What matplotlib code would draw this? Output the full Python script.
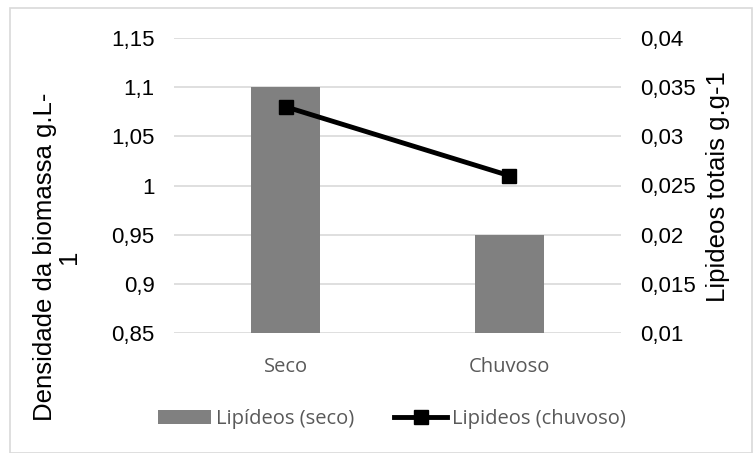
import matplotlib
matplotlib.use("Agg")
import matplotlib.pyplot as plt
from matplotlib.patches import Patch, Rectangle
from matplotlib.lines import Line2D
from matplotlib.ticker import FixedLocator, FuncFormatter

# data
categories = ["Seco", "Chuvoso"]
densidade = [1.1, 0.95]          # left axis, bars
lipideos = [0.033, 0.026]        # right axis, line

left_ticks = [0.85, 0.9, 0.95, 1.0, 1.05, 1.1, 1.15]
right_ticks = [0.01, 0.015, 0.02, 0.025, 0.03, 0.035, 0.04]


def virgula(v, pos):
    s = ("%.3f" % v).rstrip("0").rstrip(".")
    return s.replace(".", ",")


fig = plt.figure(figsize=(7.53, 4.53), dpi=100)
W, H = 753, 453
ax = fig.add_axes([174 / W, 1 - 333 / H, 447 / W, 295 / H])

# outer border like the Excel chart area
fig.patches.append(Rectangle((10 / W, 0), 742 / W, 1 - 8 / H, transform=fig.transFigure,
                             fill=False, edgecolor="#d9d9d9", linewidth=1.2))

x_pos = [i for i, _ in enumerate(categories)]
ax.bar(x_pos, densidade, width=0.31, color="#808080", zorder=2)
ax.set_xlim(-0.5, 1.5)
ax.set_ylim(0.85, 1.15)
ax.yaxis.set_major_locator(FixedLocator(left_ticks))
ax.yaxis.set_major_formatter(FuncFormatter(virgula))
ax.grid(axis="y", color="#d9d9d9", linewidth=1.2, zorder=0)
ax.set_axisbelow(True)
for s in ax.spines.values():
    s.set_visible(False)
ax.tick_params(axis="both", length=0)
ax.tick_params(axis="y", labelsize=16, pad=14)
ax.set_xticks(x_pos)
ax.set_xticklabels(categories, fontsize=14.5, color="#595959", family="Open Sans")
ax.tick_params(axis="x", pad=17)
for lab in ax.get_yticklabels():
    lab.set_family("Liberation Sans")

fig.text(57 / W, 1 - 257 / H, "Densidade da biomassa g.L-\n1", rotation=90, ha="center",
         va="center", multialignment="center", fontsize=18.5, family="Liberation Sans",
         linespacing=1.0)

ax2 = ax.twinx()
ax2.plot(x_pos, lipideos, color="black", linewidth=3.5, marker="s", markersize=10, zorder=3)
ax2.set_ylim(0.01, 0.04)
ax2.yaxis.set_major_locator(FixedLocator(right_ticks))
ax2.yaxis.set_major_formatter(FuncFormatter(virgula))
for s in ax2.spines.values():
    s.set_visible(False)
ax2.tick_params(axis="y", length=0, labelsize=16, pad=14)
for lab in ax2.get_yticklabels():
    lab.set_family("Liberation Sans")
fig.text(718 / W, 1 - 187 / H, "Lipideos totais g.g-1", rotation=90, ha="center",
         va="center", fontsize=18.5, family="Liberation Sans")

handles = [Patch(facecolor="#808080", edgecolor="none"),
           Line2D([0], [0], color="black", linewidth=3.5, marker="s", markersize=10)]
labels = ["Lipídeos (seco)", "Lipideos (chuvoso)"]
leg = fig.legend(handles, labels, loc="center", bbox_to_anchor=(392 / W, 1 - 419 / H), ncol=2,
                 frameon=False, handlelength=2.6, handletextpad=0.25, columnspacing=2.0,
                 prop={"family": "Open Sans", "size": 14.5})
for t in leg.get_texts():
    t.set_color("#595959")

fig.savefig("out.png", dpi=100)
